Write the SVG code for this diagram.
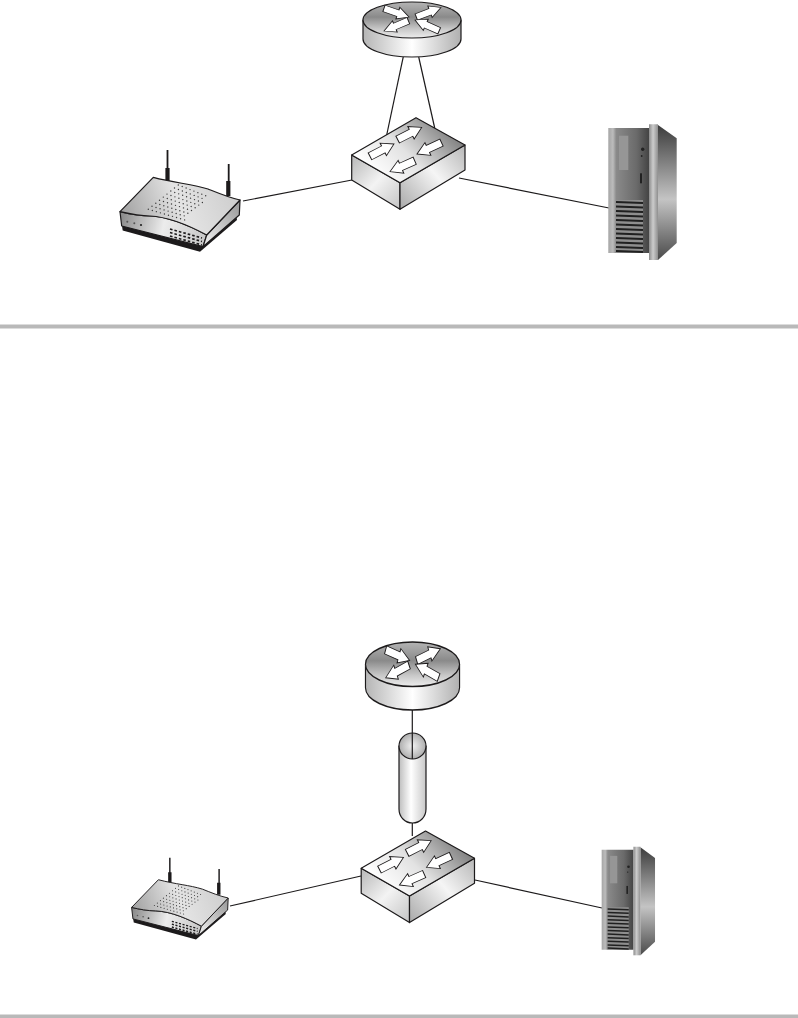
<svg xmlns="http://www.w3.org/2000/svg" width="798" height="1018" viewBox="0 0 798 1018">
<style>
.ol{stroke:#1c1a1b;stroke-width:1.2;stroke-linejoin:round}
.cn{fill:none;stroke:#1c1a1b;stroke-width:1.2}
.ar{fill:#fff;stroke:#1c1a1b;stroke-width:1;stroke-linejoin:miter}
.dv{fill:#b9b9b9}
</style>
<defs>
<linearGradient id="rtv" gradientUnits="userSpaceOnUse" x1="0" y1="2" x2="0" y2="38"><stop offset="0" stop-color="#b4b4b4"/><stop offset=".42" stop-color="#8a8a8a"/><stop offset=".75" stop-color="#c8c8c8"/><stop offset="1" stop-color="#ededed"/></linearGradient>
<linearGradient id="rb" gradientUnits="userSpaceOnUse" x1="363" y1="0" x2="461" y2="0"><stop offset="0" stop-color="#b5b5b5"/><stop offset=".5" stop-color="#fff"/><stop offset="1" stop-color="#b0b0b0"/></linearGradient>
<linearGradient id="st" gradientUnits="userSpaceOnUse" x1="375" y1="175" x2="435" y2="115"><stop offset="0" stop-color="#fff"/><stop offset=".45" stop-color="#e2e2e2"/><stop offset="1" stop-color="#7f7f7f"/></linearGradient>
<linearGradient id="sl" gradientUnits="userSpaceOnUse" x1="352" y1="160" x2="400" y2="205"><stop offset="0" stop-color="#bdbdbd"/><stop offset=".5" stop-color="#f3f3f3"/><stop offset="1" stop-color="#c8c8c8"/></linearGradient>
<linearGradient id="sr" gradientUnits="userSpaceOnUse" x1="400" y1="205" x2="465" y2="150"><stop offset="0" stop-color="#adadad"/><stop offset=".55" stop-color="#f5f5f5"/><stop offset="1" stop-color="#bcbcbc"/></linearGradient>
<linearGradient id="wt" gradientUnits="userSpaceOnUse" x1="125" y1="225" x2="235" y2="185"><stop offset="0" stop-color="#a0a0a0"/><stop offset=".5" stop-color="#e4e4e4"/><stop offset="1" stop-color="#cdcdcd"/></linearGradient>
<linearGradient id="wf" gradientUnits="userSpaceOnUse" x1="120" y1="220" x2="205" y2="240"><stop offset="0" stop-color="#8a8a8a"/><stop offset=".5" stop-color="#ececec"/><stop offset="1" stop-color="#c8c8c8"/></linearGradient>
<linearGradient id="ws" gradientUnits="userSpaceOnUse" x1="205" y1="235" x2="240" y2="205"><stop offset="0" stop-color="#e4e4e4"/><stop offset="1" stop-color="#9b9b9b"/></linearGradient>
<linearGradient id="sf" gradientUnits="userSpaceOnUse" x1="608" y1="0" x2="649" y2="0"><stop offset="0" stop-color="#a4a4a4"/><stop offset=".12" stop-color="#bcbcbc"/><stop offset=".2" stop-color="#8a8a8a"/><stop offset=".7" stop-color="#6a6a6a"/><stop offset="1" stop-color="#444"/></linearGradient>
<linearGradient id="sc" gradientUnits="userSpaceOnUse" x1="649" y1="0" x2="658" y2="0"><stop offset="0" stop-color="#8c8c8c"/><stop offset=".45" stop-color="#cccccc"/><stop offset="1" stop-color="#8f8f8f"/></linearGradient>
<linearGradient id="sv" gradientUnits="userSpaceOnUse" x1="0" y1="125" x2="0" y2="260"><stop offset="0" stop-color="#3c3c3c"/><stop offset=".55" stop-color="#c4c4c4"/><stop offset="1" stop-color="#4a4a4a"/></linearGradient>
<linearGradient id="tb" gradientUnits="userSpaceOnUse" x1="398" y1="0" x2="427" y2="0"><stop offset="0" stop-color="#b8b8b8"/><stop offset=".45" stop-color="#fff"/><stop offset="1" stop-color="#c4c4c4"/></linearGradient>
<radialGradient id="tc" cx=".5" cy=".5" r=".6"><stop offset="0" stop-color="#f2f2f2"/><stop offset="1" stop-color="#a0a0a0"/></radialGradient>
<polygon id="arw" class="ar" points="0,0 -12,-9 -12,-5 -27,-5 -27,5 -12,5 -12,9"/>
<g id="router">
<path class="ol" fill="url(#rb)" d="M363,20V39C363,49 385,57 412,57S461,49 461,39V20Z"/>
<ellipse class="ol" fill="url(#rtv)" cx="412" cy="20" rx="49" ry="18"/>
<use href="#arw" transform="translate(409,17) rotate(19) scale(.98,.68)"/>
<use href="#arw" transform="translate(441,7.5) rotate(-21) scale(.98,.68)"/>
<use href="#arw" transform="translate(384,31) rotate(157) scale(.98,.68)"/>
<use href="#arw" transform="translate(415,20) rotate(204) scale(.98,.68)"/>
</g>
<g id="switch">
<path class="ol" fill="url(#sl)" d="M351.7,155V180L400,209.3V182.7Z"/>
<path class="ol" fill="url(#sr)" d="M400,182.7V209.3L465,170V145Z"/>
<path class="ol" fill="url(#st)" d="M351.7,155L416,117.7L465,145L400,182.7Z"/>
<use href="#arw" transform="translate(421.7,127.3) rotate(-27) scale(1,.78)"/>
<use href="#arw" transform="translate(394,144) rotate(-27) scale(1,.78)"/>
<use href="#arw" transform="translate(417,154) rotate(155) scale(1,.78)"/>
<use href="#arw" transform="translate(390,171.7) rotate(156) scale(1,.78)"/>
</g>
<g id="wap">
<path d="M167.5,150V172M228.7,164V183" fill="none" stroke="#1c1a1b" stroke-width="1.8"/>
<path d="M167.5,168V181M228.3,181V196" fill="none" stroke="#1c1a1b" stroke-width="4.2"/>
<path fill="#1c1a1b" d="M122,226L122.7,230.500L200,251.700L237,220L236,214Z"/>
<path class="ol" fill="url(#wf)" d="M120,211.7L121.7,226L203,246.7L206.7,235C190,226 170,217 150,216C140,216 130,214 120,211.7Z"/>
<path class="ol" fill="url(#ws)" d="M206.7,235L240,200L239.3,215L203,246.7Z"/>
<path class="ol" fill="url(#wt)" d="M120,211.7L153.3,177.3C175,183 192,184 208,189C218,193 230,198 240,200L206.7,235C190,226 170,217 150,216C140,216 130,214 120,211.7Z"/>
<path d="M148.3,209.3L185,220M152,206.3L188,217M155.8,203.2L190.8,214.2M159.5,200.2L193.8,211.2M163.3,197.1L196.7,208.3M167,194.1L199.6,205.4M170.8,191L202.5,202.5M174.5,188L205.4,199.6M178.3,185L208.3,196.7" fill="none" stroke="#3a3a3a" stroke-width="1.4" stroke-linecap="round" stroke-dasharray="0 4.200"/>
<path d="M170,229L202,238M170,232.500L202,241.500M170,236L202,245" fill="none" stroke="#1c1a1b" stroke-width="1.7" stroke-dasharray="2.600 2"/>
<circle cx="127.3" cy="221.7" r="1" fill="#555"/><circle cx="134.3" cy="223.3" r="1" fill="#555"/><circle cx="141" cy="225" r="1.1" fill="#222"/>
</g>
<g id="server">
<path fill="url(#sv)" d="M658,125L676.7,138.3V243L658,260Z"/>
<path fill="url(#sf)" d="M608.3,128H649V253H608.3Z"/>
<path fill="url(#sc)" d="M649,124.3H658V260H649Z"/>
<rect x="619" y="135.7" width="9.3" height="34.3" fill="#969696"/>
<circle cx="642.7" cy="149.3" r="1.7" fill="#222"/><circle cx="641.7" cy="156" r=".9" fill="#222"/>
<rect x="640" y="173.3" width="2" height="10" fill="#222"/>
<path fill="#8e8e8e" d="M615.7,200H643V253H615.7Z"/>
<path d="M616,202L643,203M616,206.500L643,207.500M616,211L643,212M616,215.500L643,216.500M616,220L643,221M616,224.500L643,225.500M616,229L643,230M616,233.500L643,234.500M616,238L643,239M616,242.500L643,243.500M616,247L643,248M616,251L643,252" fill="none" stroke="#202020" stroke-width="1.9"/>
</g>
</defs>
<g id="connectors">
<line class="cn" x1="403.300" y1="56.700" x2="386.700" y2="135"/>
<line class="cn" x1="418.700" y1="57" x2="434.700" y2="128"/>
<line class="cn" x1="243" y1="201" x2="352" y2="180"/>
<line class="cn" x1="459" y1="178" x2="609" y2="208"/>
<line class="cn" x1="412.300" y1="710" x2="412.300" y2="760"/>
<line class="cn" x1="412.300" y1="822" x2="412.300" y2="836" stroke="#666"/>
<line class="cn" x1="230" y1="906" x2="361" y2="876"/>
<line class="cn" x1="475" y1="880" x2="602" y2="908"/>
</g>
<g id="top-router"><use href="#router"/></g>
<g id="top-switch"><use href="#switch"/></g>
<g id="top-wap"><use href="#wap"/></g>
<g id="top-server"><use href="#server"/></g>
<rect id="divider-1" class="dv" x="0" y="324.500" width="798" height="4"/>
<g id="bottom-router"><use href="#router" transform="matrix(.96,0,0,1.236,17,639.500)"/></g>
<g id="tunnel">
<path class="ol" fill="url(#tb)" d="M399,746V809C399,817 405,823 412.500,823S426,817 426,809V746Z"/>
<ellipse class="ol" fill="url(#tc)" cx="412.500" cy="746" rx="13.500" ry="13"/>
<line class="cn" x1="412.300" y1="733" x2="412.300" y2="759"/>
</g>
<g id="bottom-switch"><use href="#switch" transform="translate(9.500,713.300)"/></g>
<g id="bottom-wap"><use href="#wap" transform="matrix(.805,0,0,.805,35,737)"/></g>
<g id="bottom-server"><use href="#server" transform="matrix(.78,0,0,.8,127.200,747.300)"/></g>
<rect id="divider-2" class="dv" x="0" y="1014.500" width="798" height="3.500"/>
</svg>
